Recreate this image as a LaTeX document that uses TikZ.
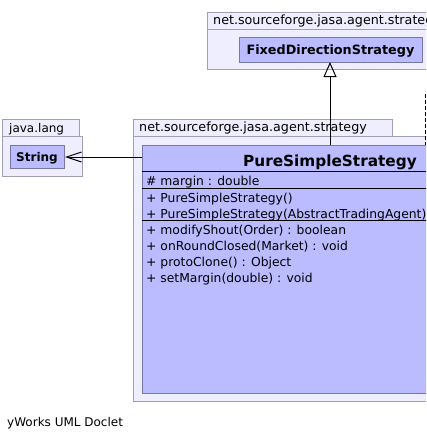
\documentclass[tikz,border=0pt]{standalone}
\usepackage{fontspec}
\setmainfont{DejaVu Sans}
\usetikzlibrary{arrows.meta}
\definecolor{pkgfill}{HTML}{EEEEFF}
\definecolor{pkgline}{HTML}{A0A0B4}
\definecolor{clsfill}{HTML}{BBBBFF}
\definecolor{clsline}{HTML}{7878A8}
\tikzset{
  pkg/.style={draw=pkgline, fill=pkgfill, line width=1pt, inner sep=0pt, anchor=north west},
  cls/.style={draw=clsline, fill=clsfill, line width=1pt, inner sep=0pt, anchor=north west},
  pkglabel/.style={anchor=base west, inner sep=0pt, font=\fontsize{12.7}{14}\selectfont},
  member/.style={anchor=base west, inner sep=0pt, font=\fontsize{12.35}{14}\selectfont},
  clsname/.style={anchor=base, inner sep=0pt, font=\fontsize{12}{14}\selectfont\bfseries},
  sep/.style={draw=black, line width=1pt},
}
\begin{document}
\begin{tikzpicture}[x=1pt,y=-1pt]
\useasboundingbox (0,0) rectangle (426,439);
\clip (0,0) rectangle (426,439);
% top package
\node[pkg, minimum width=240pt, minimum height=17pt] (ptab) at (207,12) {};
\node[pkg, minimum width=240pt, minimum height=40pt] (pbody) at (207,29) {};
\node[pkglabel] (plabel) at (213,24.5) {net.sourceforge.jasa.agent.strategy};
\node[cls, minimum width=183pt, minimum height=25pt] (fds) at (239,37) {};
\node[clsname, font=\fontsize{12.8}{14}\selectfont\bfseries] (fdsname) at (330.5,54) {FixedDirectionStrategy};
% java.lang package
\node[pkg, minimum width=77pt, minimum height=17pt] (jtab) at (2,119) {};
\node[pkg, minimum width=80pt, minimum height=40pt] (jbody) at (2,136) {};
\node[pkglabel, font=\fontsize{12}{14}\selectfont] (jlabel) at (9,132) {java.lang};
\node[cls, minimum width=54pt, minimum height=23pt] (str) at (10,145) {};
\node[clsname] (strname) at (37,161) {String};
% lower package
\node[pkg, minimum width=259pt, minimum height=17pt] (stab) at (133,119) {};
\node[pkg, minimum width=310pt, minimum height=265pt] (sbody) at (133,136) {};
\node[pkglabel] (slabel) at (139,131.5) {net.sourceforge.jasa.agent.strategy};
% class
\node[cls, minimum width=300pt, minimum height=248pt] (pss) at (142,145) {};
\node[anchor=base east, inner sep=0pt, font=\fontsize{15.3}{17}\selectfont\bfseries] (pssname) at (417,166) {PureSimpleStrategy};
\draw[sep] (142,171) -- (442,171);
\draw[sep] (142,188) -- (442,188);
\draw[sep] (142,220) -- (442,220);
\node[member] (m1) at (146,185.5) {\# margin : double};
\node[member] (m2) at (146,202) {+ PureSimpleStrategy()};
\node[member] (m3) at (146,218) {+ PureSimpleStrategy(AbstractTradingAgent)};
\node[member] (m4) at (146,234.5) {+ modifyShout(Order) : boolean};
\node[member] (m5) at (146,250.5) {+ onRoundClosed(Market) : void};
\node[member] (m6) at (146,266.5) {+ protoClone() : Object};
\node[member] (m7) at (146,282.5) {+ setMargin(double) : void};
% connectors
\draw[line width=1pt, -{Triangle[open, length=15pt, width=13pt]}] (pss.north -| 330,0) -- (330,62);
\draw[line width=1pt, -{Straight Barb[length=15pt, width=10pt]}] (142,157) -- (str.east |- 0,157);
\coordinate (dtop) at (425,94);
\draw[line width=1pt, dashed, dash pattern=on 4pt off 2pt] (dtop) -- (425,145);
% footer
\node[anchor=base west, inner sep=0pt, font=\fontsize{12}{14}\selectfont] (foot) at (7,426) {yWorks UML Doclet};
\end{tikzpicture}
\end{document}
